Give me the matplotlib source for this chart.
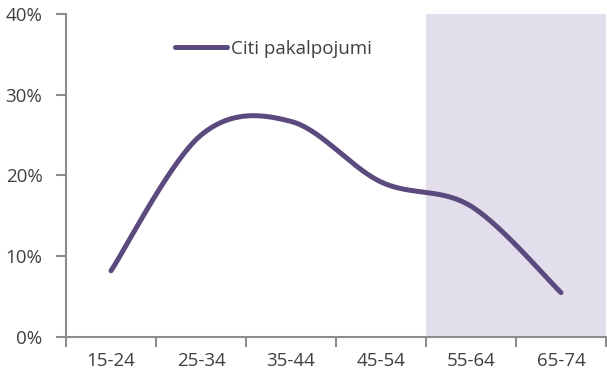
import numpy as np
import matplotlib
matplotlib.use("Agg")
import matplotlib.pyplot as plt
from matplotlib.ticker import FixedLocator, FuncFormatter

categories = ["15-24", "25-34", "35-44", "45-54", "55-64", "65-74"]
values = [8.2, 25.0, 26.7, 19.2, 16.2, 5.5]
series_name = "Citi pakalpojumi"
shade_from = 4  # index of first shaded category

plt.rcParams['font.family'] = ['Open Sans', 'DejaVu Sans']

line_color = "#5B4A7E"
shade_color = "#E3DEEB"
axis_color = "#8C8C8C"
text_color = "#404040"
fs = 13.5

fig = plt.figure(figsize=(6.07, 3.74), dpi=100)
ax = fig.add_axes([66/607, 1-337/374, (606-66)/607, (337-14)/374])

# Excel-like smooth curve (Catmull-Rom Bezier)
xs = np.arange(len(values)) + 0.5
ys = np.array(values, dtype=float)
P = np.column_stack([xs, ys])
curve = []
n = len(P)
t = np.linspace(0, 1, 60)
for i in range(n - 1):
    p0 = P[i - 1] if i > 0 else P[i]
    p1 = P[i]
    p2 = P[i + 1]
    p3 = P[i + 2] if i + 2 < n else P[i + 1]
    c1 = p1 + (p2 - p0) / 6
    c2 = p2 - (p3 - p1) / 6
    seg = ((1 - t)[:, None] ** 3 * p1 + 3 * (1 - t)[:, None] ** 2 * t[:, None] * c1
           + 3 * (1 - t)[:, None] * t[:, None] ** 2 * c2 + t[:, None] ** 3 * p2)
    curve.append(seg if i == 0 else seg[1:])
curve = np.vstack(curve)

ax.axvspan(shade_from, len(categories), color=shade_color, lw=0, zorder=0)
ax.plot(curve[:, 0], curve[:, 1], color=line_color, lw=3.6,
        solid_capstyle='round', label=series_name, zorder=3)

ax.set_xlim(0, len(categories))
ax.set_ylim(0, 40)
ax.yaxis.set_major_locator(FixedLocator([0, 10, 20, 30, 40]))
ax.yaxis.set_major_formatter(FuncFormatter(lambda v, p: f"{int(v)}%"))
ax.set_xticks(np.arange(len(categories) + 1))
ax.set_xticklabels([])
ax.set_xticks(xs, minor=True)
ax.set_xticklabels(categories, minor=True)
ax.tick_params(axis='x', which='minor', length=0, pad=11, labelsize=fs, labelcolor=text_color)
ax.tick_params(axis='x', which='major', length=7, width=1.5, color=axis_color)
ax.tick_params(axis='y', length=7, width=1.5, color=axis_color, labelsize=fs,
               labelcolor=text_color, pad=10)

for s in ['top', 'right']:
    ax.spines[s].set_visible(False)
for s in ['left', 'bottom']:
    ax.spines[s].set_color(axis_color)
    ax.spines[s].set_linewidth(1.5)

leg = ax.legend(loc='upper left', bbox_to_anchor=(0.170, 0.972), frameon=False,
                handlelength=2.8, handletextpad=0.2, fontsize=fs)
for txt in leg.get_texts():
    txt.set_color(text_color)

fig.savefig("out.png", dpi=100)
